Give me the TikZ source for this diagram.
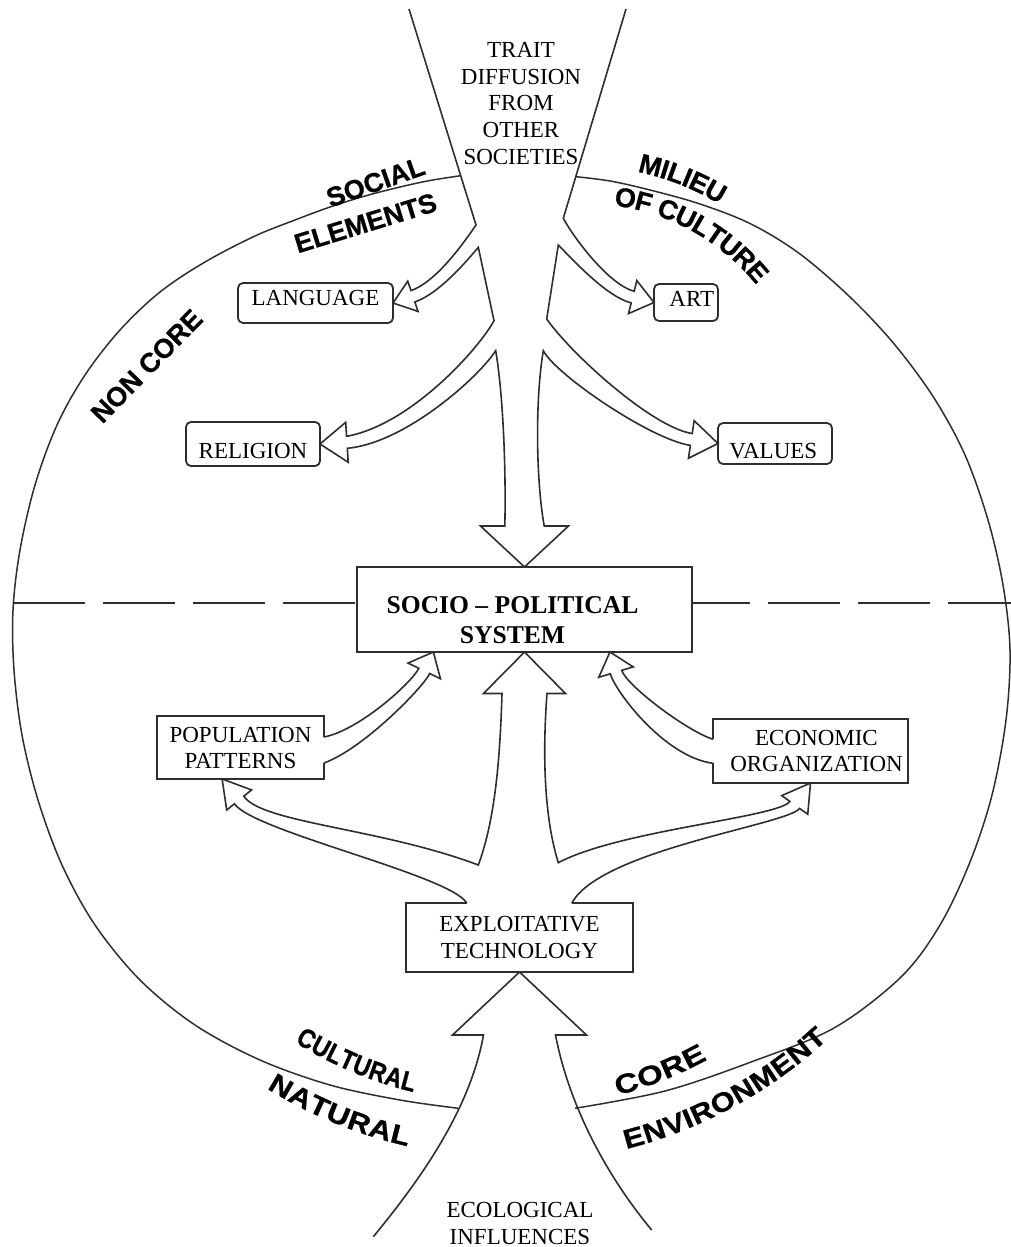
\documentclass[tikz,border=0pt]{standalone}
\usepackage{fontspec}
\setmainfont{Liberation Serif}
\newfontfamily\wordfont{Liberation Sans}
\usetikzlibrary{calc,decorations.text}
\definecolor{ink}{HTML}{2E2E2E}
\newcommand\wordart{\wordfont\bfseries\fontsize{27}{27}\selectfont\addfontfeature{FakeBold=0.8}}
\newcommand\wordC{\wordart\addfontfeature{FakeStretch=0.86}}
\newcommand\wordN{\wordart\addfontfeature{FakeStretch=1.15}}
\newcommand\wordK{\wordart\addfontfeature{FakeStretch=1.22}}
\newcommand\wordE{\wordart\addfontfeature{FakeStretch=1.14}}
% shift the text inside a box without changing the box
\newcommand\nudge[3]{\raisebox{#2pt}[\height][\depth]{\hspace*{#1pt}#3\hspace*{-#1pt}}}
% name, tip, direction, head length, head half width, shaft half width
\newcommand\headpts[6]{%
  \coordinate (#1-ps) at ($(#2)+(#3+180:#4)+(#3+90:#6)$);
  \coordinate (#1-pb) at ($(#2)+(#3+180:#4)+(#3+90:#5)$);
  \coordinate (#1-mb) at ($(#2)+(#3+180:#4)+(#3-90:#5)$);
  \coordinate (#1-ms) at ($(#2)+(#3+180:#4)+(#3-90:#6)$);
}
\tikzset{
  box/.style={draw=ink, line width=1.8, inner sep=0, outer sep=0,
    font=\fontsize{23}{26}\selectfont, align=center},
  tag/.style={box, rounded corners=5},
  caption/.style={inner sep=0, font=\fontsize{23}{26.7}\selectfont, align=center},
  outline/.style={draw=ink, line width=1.6, line join=miter},
  rim/.style={draw=ink, line width=1.5},
  divider/.style={draw=ink, line width=1.8, dash pattern=on 72pt off 18pt},
  word/.style={inner sep=0, font=\wordart},
  gap/.style={fill=white},
  arcword/.style={decorate, decoration={text along path, text align=center,
    raise=-9.7pt, text={#1}}},
}
\begin{document}
\begin{tikzpicture}[x=1pt, y=-1pt]
  \useasboundingbox (0,0) rectangle (1011,1247);
  \clip (0,0) rectangle (1011,1247);

  % boxes
  \node[tag, minimum width=155, minimum height=40] (lang) at (315.5,303) {\nudge{0}{5.5}{LANGUAGE}};
  \node[tag, minimum width=134, minimum height=44] (relig) at (253,444) {\nudge{0}{-7.3}{RELIGION}};
  \node[tag, minimum width=64, minimum height=37] (art) at (686,302.5) {\nudge{5.8}{3.4}{ART}};
  \node[tag, minimum width=114, minimum height=41] (val) at (775,443.5) {\nudge{-1.7}{-7.2}{VALUES}};
  \node[box, minimum width=335, minimum height=85] (sps) at (524.5,609.5)
    {\nudge{-12}{-13}{\bfseries\fontsize{25.6}{30}\selectfont
      \begin{tabular}{@{}c@{}}SOCIO – POLITICAL\\ SYSTEM\end{tabular}}};
  \node[box, minimum width=167, minimum height=63] (pop) at (240.5,747.5) {POPULATION\\PATTERNS};
  \node[box, minimum width=195, minimum height=64] (econ) at (810.5,751)
    {\hspace*{12pt}ECONOMIC\\\hspace*{12pt}ORGANIZATION};
  \node[box, minimum width=227, minimum height=69, font=\fontsize{23}{27.5}\selectfont]
    (tech) at (519.5,937.5) {EXPLOITATIVE\\TECHNOLOGY};
  \node[caption] (trait) at (521,103.5) {TRAIT\\DIFFUSION\\FROM\\OTHER\\SOCIETIES};
  \node[caption, font=\fontsize{23}{27}\selectfont] (eco) at (520,1223.5) {ECOLOGICAL\\INFLUENCES};

  % outer rim
  \draw[rim] plot[smooth, tension=0.55] coordinates {
    (460.7,175.7) (430,180.5) (400,187) (365,196) (330,207) (295,220) (255,236)
    (205,262) (160,292) (120,330) (85,375) (57,425) (35,485) (20,550) (13,610)
    (14,670) (22,735) (38,800) (62,865) (95,925) (140,980) (195,1025) (260,1060)
    (330,1085) (400,1100) (458.3,1108.3)};
  \draw[rim] plot[smooth, tension=0.55] coordinates {
    (575.8,176.7) (610,181) (650,190) (700,204) (751,224) (800,254) (851,298)
    (895,345) (934,398) (965,455) (988,520) (1003,585) (1010,650) (1006,720)
    (992,795) (970,862) (940,925) (901,977) (834,1028) (751,1062) (665,1091)
    (575,1108.3)};

  % core / non core divider
  \coordinate (lEdge) at (13,603);
  \coordinate (rEdge) at (1011,603);
  \draw[divider] (lEdge) -- (lEdge -| sps.west);
  \draw[divider, dash phase=14pt] (rEdge -| sps.east) -- (rEdge);

  % arrow heads
  \coordinate (puTip) at ($(sps.south west)!0.228!(sps.south east)$);
  \coordinate (euTip) at ($(sps.south west)!0.755!(sps.south east)$);
  \coordinate (plTip) at ($(pop.south west)!0.39!(pop.south east)$);
  \foreach \nm/\tp/\ang/\hl/\hw/\sw in {lg/lang.east/161.3/21/16/6, rl/relig.east/176.4/27/20/6,
      vl/val.west/8.6/27/19/6, ar/art.west/14.2/22/17/6, dn/sps.north/90/41/44/19.7,
      up/sps.south/-90/41.5/41/22.5, pu/puTip/-64.2/21/18/6, eu/euTip/-106.8/21/18/6,
      pl/plTip/-129/27/16/6, el/econ.south/-54.3/27/16/6, bt/tech.south/-90/63/67/36}
    {\headpts{\nm}{\tp}{\ang}{\hl}{\hw}{\sw}}

  % open the box sides where the shafts join
  \fill[gap] ($(pop.east)+(-1.5,-10.5)$) rectangle ($(pop.east)+(1.5,15.5)$);
  \fill[gap] ($(econ.west)+(-1.5,-11.7)$) rectangle ($(econ.west)+(1.5,12.3)$);
  \fill[gap] (466.7,901.5) rectangle (571.7,904.5);

  % diffusion tree
  \draw[outline] (409,9) -- (476,225)
    .. controls (461,247) and (434.7,282.6) .. (lg-ps) -- (lg-pb) -- (lang.east) -- (lg-mb) -- (lg-ms)
    .. controls (438.5,294) and (466,262) .. (478.3,247.3) -- (494,320.7)
    .. controls (478,350) and (410,425) .. (rl-ps) -- (rl-pb) -- (relig.east) -- (rl-mb) -- (rl-ms)
    .. controls (405,443) and (478,378) .. (495.7,350.7)
    .. controls (504,400) and (506,480) .. (dn-ps) -- (dn-pb) -- (sps.north) -- (dn-mb) -- (dn-ms)
    .. controls (536,480) and (535,400) .. (543.3,350.7)
    .. controls (556,375) and (650.8,439.4) .. (vl-ps) -- (vl-pb) -- (val.west) -- (vl-mb) -- (vl-ms)
    .. controls (652.6,427.5) and (572,355) .. (546.7,319) -- (558.3,245)
    .. controls (575,262) and (607,296.8) .. (ar-ps) -- (ar-pb) -- (art.west) -- (ar-mb) -- (ar-ms)
    .. controls (610,285.2) and (575,240) .. (563.3,218.3) -- (626,9);

  % technology tree
  \draw[outline] (466.7,903)
    .. controls (450,875) and (252.8,831.2) .. (pl-ms) -- (pl-mb) -- (plTip) -- (pl-pb) -- (pl-ps)
    .. controls (262,823) and (380,828) .. (478.3,865)
    .. controls (495,820) and (500,760) .. (up-ms) -- (up-mb) -- (sps.south) -- (up-pb) -- (up-ps)
    .. controls (542,760) and (545,820) .. (558.3,862.7)
    .. controls (620,830) and (778.2,817.6) .. (el-ms) -- (el-mb) -- (econ.south) -- (el-pb) -- (el-ps)
    .. controls (787.9,824.6) and (600,850) .. (571.7,903.3);
  \draw[outline] ($(pop.east)+(0,-10.5)$)
    .. controls (360,730) and (412.4,681.8) .. (pu-ms) -- (pu-mb) -- (puTip) -- (pu-pb) -- (pu-ps)
    .. controls (425,685) and (365,748) .. ($(pop.east)+(0,15.5)$);
  \draw[outline] ($(econ.west)+(0,-11.7)$)
    .. controls (685,730) and (626.1,684.8) .. (eu-ps) -- (eu-pb) -- (euTip) -- (eu-mb) -- (eu-ms)
    .. controls (616.2,692.9) and (665,757) .. ($(econ.west)+(0,12.3)$);
  \draw[outline] (373.3,1236.7)
    .. controls (420,1180) and (470,1110) .. (bt-ms) -- (bt-mb) -- (tech.south) -- (bt-pb) -- (bt-ps)
    .. controls (570,1110) and (610,1180) .. (651.7,1230);

  % region names
  \node[word, rotate=19.4] (social) at (375.5,182) {SOCIAL};
  \node[word, rotate=17] (elements) at (365.5,223) {ELEMENTS};
  \node[word, rotate=45.6] (noncore) at (146.7,366) {NON CORE};
  \path[arcword={|\wordart|MILIEU}] (586,423) ++(-93.5:266) arc[start angle=-93.5, end angle=-43.5, radius=266];
  \path[arcword={|\wordart|OF CULTURE}] (586,423) ++(-90.9:229) arc[start angle=-90.9, end angle=-30.9, radius=229];
  \path[arcword={|\wordC|CULTURAL}] (510,696) ++(132.8:398) arc[start angle=132.8, end angle=92.8, radius=398];
  \path[arcword={|\wordN|NATURAL}] (510,696) ++(132.3:452) arc[start angle=132.3, end angle=92.3, radius=452];
  \path[arcword={|\wordK|CORE}] (510,696) ++(88.2:404) arc[start angle=88.2, end angle=48.2, radius=404];
  \path[arcword={|\wordE|ENVIRONMENT}] (510,696) ++(86.4:458) arc[start angle=86.4, end angle=36.4, radius=458];
\end{tikzpicture}
\end{document}
